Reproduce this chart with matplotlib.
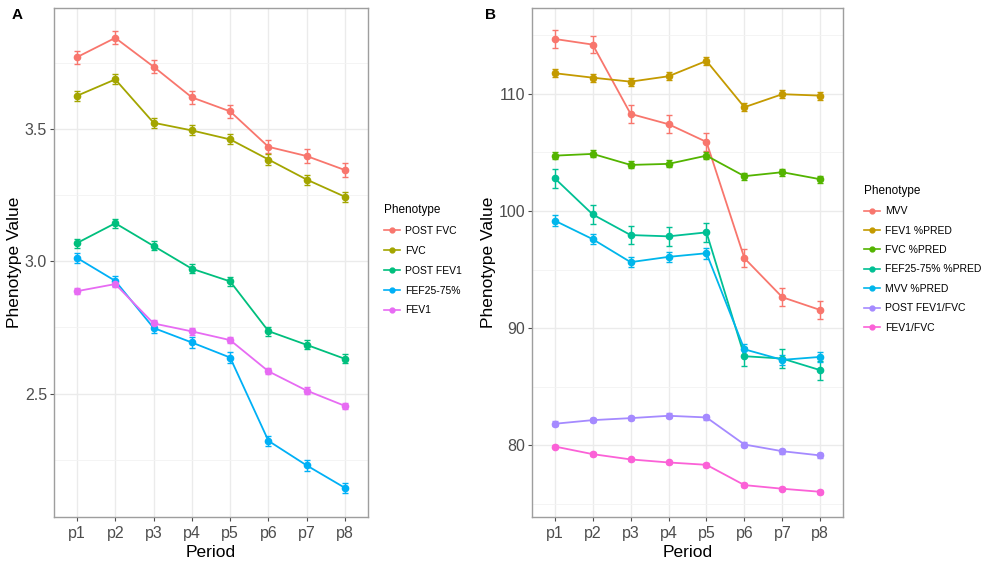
import matplotlib
matplotlib.use("Agg")
import matplotlib.pyplot as plt
from matplotlib.ticker import MultipleLocator
from matplotlib.lines import Line2D

plt.rcParams["font.family"] = ["Liberation Sans", "DejaVu Sans"]

periods = ["p1", "p2", "p3", "p4", "p5", "p6", "p7", "p8"]

# Panel A: absolute lung function values
a_names = ["POST FVC", "FVC", "POST FEV1", "FEF25-75%", "FEV1"]
a_colors = ["#F8766D", "#A3A500", "#00BF7D", "#00B0F6", "#E76BF3"]
post_fvc = [3.772, 3.845, 3.736, 3.620, 3.567, 3.433, 3.398, 3.345]
fvc = [3.626, 3.688, 3.524, 3.495, 3.461, 3.385, 3.309, 3.244]
post_fev1 = [3.069, 3.144, 3.058, 2.972, 2.924, 2.736, 2.684, 2.631]
fef2575 = [3.013, 2.926, 2.748, 2.693, 2.636, 2.321, 2.228, 2.143]
fev1 = [2.887, 2.914, 2.765, 2.735, 2.702, 2.584, 2.511, 2.453]
a_err = [0.025, 0.019, 0.017, 0.020, 0.012]

# Panel B: percent-predicted values and ratios
b_names = ["MVV", "FEV1 %PRED", "FVC %PRED", "FEF25-75% %PRED",
           "MVV %PRED", "POST FEV1/FVC", "FEV1/FVC"]
b_colors = ["#F8766D", "#C49A00", "#53B400", "#00C094",
            "#00B6EB", "#A58AFF", "#FB61D7"]
mvv = [114.66, 114.18, 108.27, 107.39, 105.88, 95.97, 92.64, 91.55]
fev1_pred = [111.74, 111.36, 111.02, 111.48, 112.79, 108.84, 109.95, 109.83]
fvc_pred = [104.71, 104.86, 103.92, 104.01, 104.71, 102.96, 103.30, 102.70]
fef_pred = [102.78, 99.70, 97.94, 97.83, 98.17, 87.61, 87.41, 86.42]
mvv_pred = [99.17, 97.59, 95.63, 96.08, 96.39, 88.20, 87.30, 87.55]
post_ratio = [81.85, 82.16, 82.33, 82.53, 82.39, 80.08, 79.51, 79.15]
ratio = [79.91, 79.26, 78.81, 78.55, 78.35, 76.62, 76.31, 76.05]
b_err = [0.75, 0.35, 0.30, 0.80, 0.45, 0.20, 0.15]

a_series = [post_fvc, fvc, post_fev1, fef2575, fev1]
b_series = [mvv, fev1_pred, fvc_pred, fef_pred, mvv_pred, post_ratio, ratio]

fig = plt.figure(figsize=(9.93, 5.63), dpi=100)
W, H = 993, 563
axA = fig.add_axes([54 / W, 1 - 517 / H, (368 - 54) / W, (517 - 8) / H])
axB = fig.add_axes([532 / W, 1 - 517 / H, (843 - 532) / W, (517 - 8) / H])

x = list(range(len(periods)))


def style(ax, major, minor, ylim):
    ax.set_xlim(-0.6, 7.6)
    ax.set_ylim(*ylim)
    ax.set_xticks(x)
    ax.set_xticklabels(periods)
    ax.yaxis.set_major_locator(MultipleLocator(major))
    ax.yaxis.set_minor_locator(MultipleLocator(minor))
    ax.grid(True, which="major", color="#EBEBEB", lw=1.0, zorder=0)
    ax.grid(True, which="minor", axis="y", color="#F3F3F3", lw=0.6, zorder=0)
    ax.set_axisbelow(True)
    for s in ax.spines.values():
        s.set_color("#9E9E9E")
        s.set_linewidth(1.0)
    ax.tick_params(axis="both", which="major", colors="#4D4D4D", labelsize=11.5,
                   length=3, width=0.8, pad=2)
    ax.tick_params(axis="x", which="major", pad=3.5)
    ax.tick_params(axis="y", which="minor", length=0)
    ax.set_xlabel("Period", fontsize=12.5, labelpad=3, color="black")
    ax.set_ylabel("Phenotype Value", fontsize=12.5, labelpad=2, color="black")


def draw(ax, names, colors, series, errs):
    handles = []
    for name, c, vals, e in zip(names, colors, series, errs):
        ax.errorbar(x, vals, yerr=e, color=c, lw=1.3, marker="o", ms=4.5,
                    capsize=2, elinewidth=1.0, capthick=1.0, zorder=3)
        handles.append(Line2D([0], [0], color=c, lw=1.2, marker="o", ms=3.5,
                              label=name))
    return handles


hA = draw(axA, a_names, a_colors, a_series, a_err)
style(axA, 0.5, 0.25, (2.033, 3.958))
hB = draw(axB, b_names, b_colors, b_series, b_err)
style(axB, 10, 5, (73.9, 117.3))

for ax, h, (lx, ty, sp) in [(axA, hA, (384, 204, 0.95)),
                            (axB, hB, (864, 185, 0.9))]:
    leg = ax.legend(handles=h, title="Phenotype", loc="upper left",
                    bbox_to_anchor=(lx / W, 1 - ty / H),
                    bbox_transform=fig.transFigure, frameon=False,
                    fontsize=7.5, title_fontsize=8.5, handlelength=1.5,
                    handletextpad=0.5, labelspacing=sp, borderaxespad=0,
                    borderpad=0)
    leg._legend_box.align = "left"

fig.text(12 / W, 1 - 15 / H, "A", fontsize=11, fontweight="bold", va="center")
fig.text(485 / W, 1 - 15 / H, "B", fontsize=11, fontweight="bold", va="center")

fig.savefig("out.png", dpi=100, facecolor="white")
